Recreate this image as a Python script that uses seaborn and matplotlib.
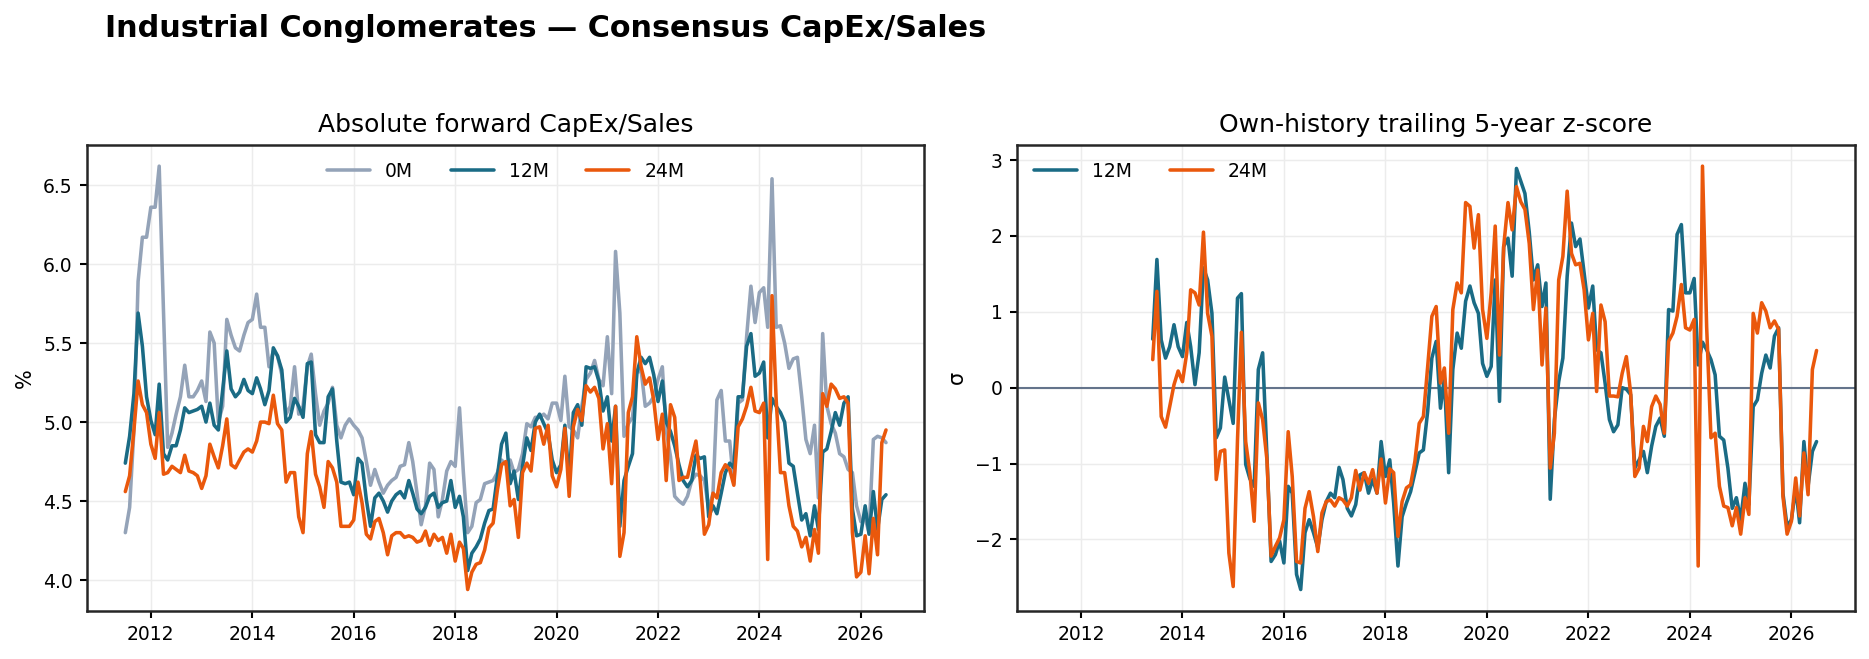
import numpy as np
import pandas as pd
import matplotlib
matplotlib.use("Agg")
import matplotlib.pyplot as plt
import matplotlib.dates as mdates
import seaborn as sns

# monthly consensus CapEx/Sales (%), Jul-2011 .. Jul-2026
capex_0m = [
    4.30, 4.46, 4.95, 5.89, 6.17, 6.17, 6.36, 6.36, 6.62, 5.70,
    4.84, 4.93, 5.05, 5.16, 5.36, 5.16, 5.16, 5.20, 5.26, 5.13,
    5.57, 5.50, 5.00, 5.10, 5.65, 5.55, 5.47, 5.45, 5.55, 5.63,
    5.65, 5.81, 5.60, 5.60, 5.35, 5.45, 5.42, 5.30, 5.05, 5.10,
    5.35, 5.05, 5.10, 5.35, 5.43, 5.18, 4.98, 5.07, 5.12, 5.22,
    4.98, 4.90, 4.98, 5.02, 4.98, 4.95, 4.90, 4.75, 4.60, 4.70,
    4.62, 4.55, 4.60, 4.63, 4.65, 4.72, 4.73, 4.87, 4.75, 4.55,
    4.35, 4.47, 4.74, 4.70, 4.40, 4.51, 4.69, 4.75, 4.72, 5.09,
    4.68, 4.30, 4.34, 4.49, 4.51, 4.61, 4.62, 4.63, 4.68, 4.76,
    4.73, 4.76, 4.68, 4.70, 4.80, 4.99, 4.97, 5.03, 5.03, 5.05,
    5.02, 5.12, 5.12, 5.01, 5.29, 4.97, 4.95, 4.90, 5.10, 5.27,
    5.31, 5.39, 5.27, 5.23, 5.54, 5.18, 6.08, 5.69, 4.91, 4.99,
    5.03, 5.31, 5.33, 5.10, 5.12, 5.16, 5.27, 5.35, 4.95, 4.78,
    4.53, 4.50, 4.48, 4.53, 4.63, 4.67, 4.66, 4.63, 4.45, 4.55,
    5.14, 5.20, 4.88, 4.88, 4.61, 5.12, 5.14, 5.54, 5.86, 5.63,
    5.82, 5.85, 5.60, 6.54, 5.60, 5.61, 5.50, 5.34, 5.40, 5.41,
    5.16, 4.89, 4.80, 4.98, 4.52, 5.56, 5.10, 4.99, 4.93, 4.80,
    4.78, 4.70, 4.68, 4.47, 4.37, 4.39, 4.30, 4.89, 4.91, 4.90,
    4.87,
]
capex_12m = [
    4.74, 4.91, 5.18, 5.69, 5.48, 5.16, 5.01, 4.92, 5.24, 4.80,
    4.76, 4.85, 4.85, 4.95, 5.09, 5.06, 5.07, 5.08, 5.10, 5.00,
    5.12, 4.98, 4.95, 5.20, 5.45, 5.21, 5.16, 5.19, 5.27, 5.20,
    5.18, 5.28, 5.21, 5.11, 5.20, 5.47, 5.42, 5.33, 5.00, 5.03,
    5.15, 5.10, 5.03, 5.37, 5.38, 4.92, 4.87, 4.87, 5.16, 5.21,
    4.88, 4.62, 4.61, 4.62, 4.54, 4.77, 4.74, 4.51, 4.34, 4.52,
    4.55, 4.50, 4.43, 4.50, 4.54, 4.56, 4.52, 4.63, 4.55, 4.45,
    4.42, 4.46, 4.53, 4.55, 4.46, 4.49, 4.50, 4.63, 4.46, 4.53,
    4.40, 4.06, 4.17, 4.21, 4.26, 4.36, 4.44, 4.45, 4.66, 4.86,
    4.93, 4.61, 4.69, 4.51, 4.72, 4.90, 4.82, 5.00, 5.05, 4.99,
    4.93, 4.76, 4.68, 4.73, 4.98, 4.63, 5.06, 5.11, 4.98, 5.35,
    5.34, 5.35, 5.26, 5.07, 5.16, 4.88, 5.10, 4.34, 4.63, 4.72,
    4.80, 5.31, 5.41, 5.37, 5.41, 5.30, 5.13, 5.26, 5.00, 4.94,
    4.85, 4.73, 4.63, 4.59, 4.63, 4.79, 4.77, 4.78, 4.40, 4.47,
    4.42, 4.55, 4.68, 4.74, 4.71, 5.16, 5.16, 5.48, 5.56, 5.29,
    5.31, 5.38, 4.90, 5.15, 5.10, 5.06, 5.00, 4.74, 4.72, 4.55,
    4.38, 4.42, 4.28, 4.47, 4.32, 4.81, 4.83, 4.94, 5.06, 4.98,
    5.12, 5.16, 4.45, 4.28, 4.29, 4.47, 4.29, 4.56, 4.32, 4.51,
    4.54,
]
capex_24m = [
    4.56, 4.66, 4.95, 5.26, 5.11, 5.06, 4.86, 4.77, 5.06, 4.67,
    4.68, 4.72, 4.70, 4.68, 4.79, 4.69, 4.68, 4.66, 4.58, 4.66,
    4.86, 4.78, 4.71, 4.85, 5.02, 4.73, 4.71, 4.76, 4.81, 4.83,
    4.81, 4.88, 5.00, 5.00, 4.99, 5.17, 4.99, 4.95, 4.62, 4.68,
    4.68, 4.40, 4.30, 4.80, 4.94, 4.67, 4.59, 4.46, 4.75, 4.71,
    4.62, 4.34, 4.34, 4.34, 4.38, 4.62, 4.49, 4.29, 4.26, 4.37,
    4.39, 4.30, 4.16, 4.28, 4.30, 4.30, 4.27, 4.28, 4.27, 4.24,
    4.25, 4.31, 4.22, 4.29, 4.25, 4.27, 4.17, 4.29, 4.12, 4.24,
    4.20, 3.94, 4.05, 4.10, 4.11, 4.19, 4.33, 4.36, 4.57, 4.73,
    4.75, 4.47, 4.51, 4.27, 4.68, 4.74, 4.69, 4.96, 4.97, 4.86,
    4.98, 4.66, 4.59, 4.70, 4.96, 4.53, 4.97, 5.08, 5.01, 5.23,
    5.19, 5.22, 5.15, 4.83, 4.99, 4.61, 5.10, 4.15, 4.30, 5.06,
    5.16, 5.54, 5.35, 5.24, 5.28, 5.14, 4.89, 5.05, 4.63, 5.11,
    5.03, 4.63, 4.65, 4.65, 4.77, 4.88, 4.63, 4.29, 4.35, 4.55,
    4.52, 4.68, 4.73, 4.70, 4.60, 4.97, 5.02, 5.10, 5.22, 5.07,
    5.06, 5.12, 4.13, 5.80, 5.14, 4.68, 4.68, 4.47, 4.34, 4.31,
    4.21, 4.27, 4.12, 4.32, 4.17, 5.18, 5.10, 5.24, 5.21, 5.15,
    5.16, 5.12, 4.30, 4.02, 4.05, 4.28, 4.04, 4.39, 4.16, 4.87,
    4.95,
]

# trailing 5-year z-scores, Jun-2013 .. Jul-2026
z_12m = [
    0.64, 1.69, 0.63, 0.39, 0.54, 0.83, 0.54, 0.41, 0.86, 0.54,
    0.04, 0.46, 1.58, 1.42, 0.98, -0.66, -0.53, 0.14, -0.16, -0.47,
    1.18, 1.24, -1.01, -1.20, -1.30, 0.24, 0.46, -0.90, -2.29, -2.20,
    -2.02, -2.31, -1.30, -1.39, -2.46, -2.66, -1.91, -1.74, -1.91, -2.11,
    -1.74, -1.50, -1.39, -1.45, -1.05, -1.21, -1.59, -1.69, -1.54, -1.15,
    -1.12, -1.39, -1.21, -1.39, -0.71, -1.17, -0.95, -1.52, -2.35, -1.70,
    -1.52, -1.37, -1.12, -0.86, -0.82, -0.31, 0.39, 0.61, -0.27, 0.13,
    -1.12, 0.24, 0.72, 0.52, 1.14, 1.34, 1.12, 0.98, 0.32, 0.15,
    0.28, 1.42, -0.18, 1.86, 1.97, 1.47, 2.89, 2.72, 2.56, 2.05,
    1.42, 1.62, 1.07, 1.38, -1.47, -0.42, 0.08, 0.39, 1.47, 2.17,
    1.86, 1.96, 1.51, 1.05, 1.34, 0.50, 0.46, 0.06, -0.42, -0.58,
    -0.49, 0.00, -0.02, -0.09, -1.06, -0.95, -0.84, -1.12, -0.77, -0.51,
    -0.40, -0.64, 1.03, 1.01, 2.02, 2.15, 1.25, 1.25, 1.44, 0.30,
    0.60, 0.50, 0.37, 0.17, -0.64, -0.69, -1.06, -1.59, -1.45, -1.74,
    -1.26, -1.54, -0.25, -0.16, 0.19, 0.43, 0.26, 0.68, 0.79, -1.39,
    -1.83, -1.74, -1.32, -1.78, -0.71, -1.30, -0.84, -0.71,
]
z_24m = [
    0.37, 1.27, -0.38, -0.52, -0.25, 0.04, 0.22, 0.08, 0.46, 1.29,
    1.25, 1.09, 2.05, 0.98, 0.68, -1.21, -0.84, -0.82, -2.18, -2.62,
    -0.69, 0.73, -0.71, -1.12, -1.76, -0.20, -0.42, -0.95, -2.22, -2.09,
    -1.98, -1.74, -0.58, -1.17, -2.29, -2.31, -1.59, -1.37, -1.70, -2.16,
    -1.65, -1.50, -1.48, -1.56, -1.45, -1.48, -1.56, -1.45, -1.09, -1.35,
    -1.12, -1.26, -1.08, -1.39, -0.94, -1.52, -1.07, -1.12, -1.96, -1.50,
    -1.32, -1.28, -0.97, -0.47, -0.38, 0.28, 0.94, 1.07, 0.06, 0.26,
    -0.60, 1.03, 1.38, 1.25, 2.44, 2.39, 1.84, 2.28, 1.03, 0.65,
    1.25, 2.13, 0.43, 1.86, 2.44, 2.08, 2.65, 2.45, 2.35, 1.90,
    1.03, 1.55, 0.30, 1.05, -1.06, -0.60, 1.42, 1.73, 2.59, 1.77,
    1.62, 1.64, 1.29, 0.63, 0.98, -0.05, 1.09, 0.87, -0.11, -0.11,
    -0.12, 0.19, 0.41, -0.07, -1.17, -1.06, -0.51, -0.71, -0.25, -0.11,
    -0.22, -0.60, 0.61, 0.72, 0.94, 1.36, 0.79, 0.76, 0.90, -2.35,
    2.92, 0.80, -0.66, -0.60, -1.30, -1.56, -1.58, -1.82, -1.58, -1.93,
    -1.45, -1.67, 0.98, 0.72, 1.12, 1.01, 0.79, 0.88, 0.77, -1.43,
    -1.93, -1.76, -1.19, -1.69, -0.86, -1.41, 0.24, 0.49,
]

dates_abs = pd.date_range("2011-07-01", periods=len(capex_0m), freq="MS")
dates_z = pd.date_range("2013-06-01", periods=len(z_12m), freq="MS")

GRAY = "#94a3b8"
TEAL = "#1a6b85"
ORANGE = "#ea580c"

sns.set_theme(style="ticks")
plt.rcParams.update({
    "font.family": ["DejaVu Sans"],
    "text.color": "black",
    "axes.labelcolor": "black",
    "xtick.color": "black",
    "ytick.color": "black",
    "xtick.labelsize": 9,
    "ytick.labelsize": 9,
    "xtick.major.size": 3.5,
    "ytick.major.size": 3.5,
    "xtick.major.width": 1.0,
    "ytick.major.width": 1.0,
    "xtick.major.pad": 3.5,
    "ytick.major.pad": 3.5,
    "axes.titlesize": 12,
    "axes.labelsize": 10,
    "legend.fontsize": 9,
    "axes.edgecolor": "#262626",
    "axes.linewidth": 1.2,
})

fig = plt.figure(figsize=(1869 / 150, 659 / 150), dpi=150)
ax1 = fig.add_axes([0.0467, 0.0733, 0.4477, 0.7067])
ax2 = fig.add_axes([0.5443, 0.0733, 0.4480, 0.7067])

lw = 1.7
sns.lineplot(x=dates_abs, y=capex_0m, ax=ax1, color=GRAY, lw=lw, label="0M")
sns.lineplot(x=dates_abs, y=capex_12m, ax=ax1, color=TEAL, lw=lw, label="12M")
sns.lineplot(x=dates_abs, y=capex_24m, ax=ax1, color=ORANGE, lw=lw, label="24M")
ax1.set_title("Absolute forward CapEx/Sales", color="black")
ax1.set_ylabel("%")
ax1.set_xlabel("")
ax1.legend(loc="upper center", ncol=3, frameon=False, handlelength=2.3)

ax2.axhline(0, color="#64748b", lw=1.0, zorder=1)
sns.lineplot(x=dates_z, y=z_12m, ax=ax2, color=TEAL, lw=lw, label="12M")
sns.lineplot(x=dates_z, y=z_24m, ax=ax2, color=ORANGE, lw=lw, label="24M")
ax2.set_title("Own-history trailing 5-year z-score", color="black")
ax2.set_ylabel("σ")
ax2.set_xlabel("")
ax2.legend(loc="upper left", ncol=2, frameon=False, handlelength=2.3)
ax2.set_xlim(ax1.get_xlim())

for ax in (ax1, ax2):
    ax.grid(True, color="#ececec", lw=0.7)
    ax.set_axisbelow(True)
    ax.xaxis.set_major_locator(mdates.YearLocator(2))
    ax.xaxis.set_major_formatter(mdates.DateFormatter("%Y"))

fig.text(0.056, 0.957, "Industrial Conglomerates — Consensus CapEx/Sales",
         ha="left", va="center", fontsize=14.5, fontweight="bold", color="black")

fig.savefig("out.png", dpi=150)
